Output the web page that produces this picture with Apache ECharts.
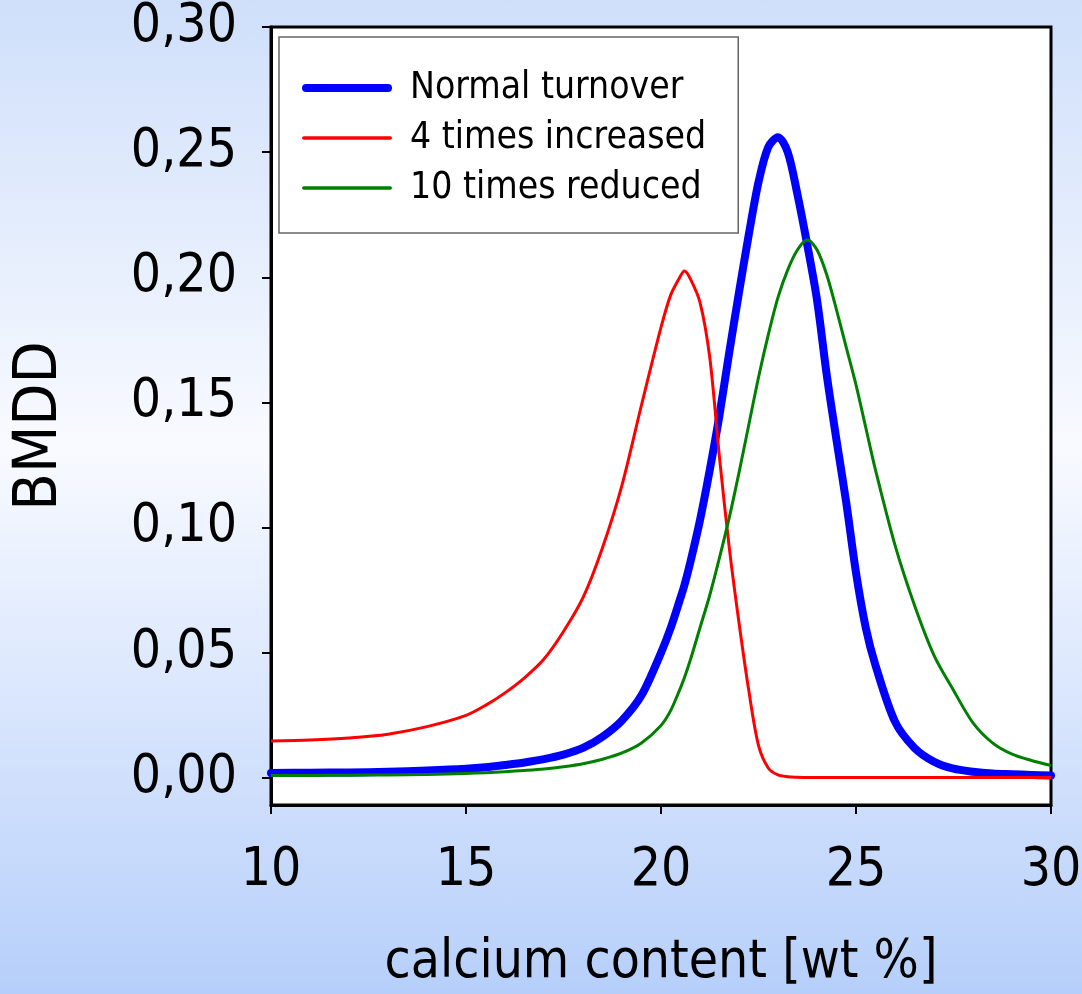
<!DOCTYPE html>
<html>
<head>
<meta charset="utf-8">
<script src="https://cdn.jsdelivr.net/npm/echarts@6/dist/echarts.min.js"></script>
<style>
html,body{margin:0;padding:0;}
body{width:1082px;height:994px;background:linear-gradient(to bottom,#cfdffa 0%,#f8faff 45%,#b6cffa 100%);}
#chart{width:1082px;height:994px;}
</style>
</head>
<body>
<div id="chart"></div>
<script>
const seriesNames = ['Normal turnover', '4 times increased', '10 times reduced'];
const xValues = [10, 11, 12, 13, 14, 15, 15.5, 16, 16.5, 17, 17.5, 18, 18.5, 19, 19.5, 20, 20.25, 20.5, 20.6, 20.75, 21, 21.25, 21.5, 21.75, 22, 22.25, 22.5, 22.75, 23, 23.25, 23.5, 23.75, 24, 24.25, 24.5, 24.75, 25, 25.25, 25.5, 26, 26.5, 27, 27.5, 28, 28.5, 29, 29.5, 30];
const normalTurnover = [0.0020, 0.0021, 0.0022, 0.0025, 0.0030, 0.0037, 0.0043, 0.0052, 0.0062, 0.0075, 0.0093, 0.0120, 0.0165, 0.0230, 0.0330, 0.0500, 0.0600, 0.0720, 0.0770, 0.0860, 0.1030, 0.1230, 0.1450, 0.1700, 0.1940, 0.2170, 0.2380, 0.2520, 0.2560, 0.2500, 0.2330, 0.2130, 0.1910, 0.1610, 0.1350, 0.1100, 0.0820, 0.0600, 0.0450, 0.0225, 0.0120, 0.0065, 0.0037, 0.0025, 0.0018, 0.0015, 0.0012, 0.0010];
const fourTimesIncreased = [0.0148, 0.0152, 0.0160, 0.0175, 0.0205, 0.0250, 0.0290, 0.0340, 0.0400, 0.0475, 0.0585, 0.0720, 0.0920, 0.1170, 0.1490, 0.1800, 0.1930, 0.2005, 0.2025, 0.1995, 0.1900, 0.1680, 0.1280, 0.0920, 0.0620, 0.0350, 0.0130, 0.0040, 0.0012, 0.0005, 0.0003, 0.0002, 0.0002, 0.0002, 0.0002, 0.0002, 0.0002, 0.0002, 0.0002, 0.0002, 0.0002, 0.0002, 0.0002, 0.0002, 0.0002, 0.0002, 0.0002, 0.0002];
const tenTimesReduced = [0.0010, 0.0010, 0.0011, 0.0012, 0.0014, 0.0018, 0.0021, 0.0025, 0.0030, 0.0036, 0.0045, 0.0057, 0.0075, 0.0100, 0.0140, 0.0210, 0.0270, 0.0360, 0.0400, 0.0470, 0.0600, 0.0730, 0.0880, 0.1040, 0.1220, 0.1410, 0.1600, 0.1770, 0.1920, 0.2030, 0.2110, 0.2150, 0.2110, 0.2010, 0.1870, 0.1720, 0.1570, 0.1400, 0.1230, 0.0930, 0.0690, 0.0490, 0.0350, 0.0220, 0.0140, 0.0095, 0.0070, 0.0050];
const yTickValues = [0, 0.05, 0.10, 0.15, 0.20, 0.25, 0.30];
const yTickLabels = ['0,00', '0,05', '0,10', '0,15', '0,20', '0,25', '0,30'];
const xTickLabels = ['10', '15', '20', '25', '30'];
const xAxisTitle = 'calcium content [wt %]';
const yAxisTitle = 'BMDD';

const FONT = "'DejaVu Sans Condensed', 'DejaVu Sans', sans-serif";
const pairs = ys => xValues.map((x, i) => [x, ys[i]]);
const lineIcon = h => 'path://M' + (h / 2) + ',0 L' + (90 - h / 2) + ',0 A' + (h / 2) + ',' + (h / 2) + ' 0 0 1 ' + (90 - h / 2) + ',' + h +
  ' L' + (h / 2) + ',' + h + ' A' + (h / 2) + ',' + (h / 2) + ' 0 0 1 ' + (h / 2) + ',0 Z';

const chart = echarts.init(document.getElementById('chart'), null, {renderer: 'canvas'});
chart.setOption({
  backgroundColor: 'transparent',
  animation: false,
  grid: {
    left: 271, top: 27, width: 780, height: 778,
    show: true, backgroundColor: '#ffffff', borderColor: '#000000', borderWidth: 3,
    containLabel: false, outerBoundsMode: 'none'
  },
  legend: {
    left: 279, top: 37, orient: 'vertical',
    data: [
      {name: seriesNames[0], icon: lineIcon(8)},
      {name: seriesNames[1], icon: lineIcon(3.5)},
      {name: seriesNames[2], icon: lineIcon(3.5)}
    ],
    backgroundColor: '#ffffff', borderColor: '#666666', borderWidth: 1.5, borderRadius: 0,
    padding: [26, 32, 20, 23],
    itemWidth: 90, itemHeight: 14, itemGap: 0,
    selectedMode: false,
    textStyle: {fontFamily: FONT, fontSize: 37, color: '#000', lineHeight: 50, padding: [0, 0, 0, 13]}
  },
  xAxis: {
    type: 'value', min: 10, max: 30, interval: 5,
    name: xAxisTitle, nameLocation: 'middle', nameGap: 132,
    nameTextStyle: {fontFamily: FONT, fontSize: 53, color: '#000'},
    axisLine: {show: true, onZero: false, lineStyle: {color: '#000', width: 3}},
    axisTick: {show: true, inside: false, length: 9, lineStyle: {color: '#000', width: 2}},
    axisLabel: {fontFamily: FONT, fontSize: 53, color: '#000', margin: 40,
      formatter: v => xTickLabels[Math.round((v - 10) / 5)]},
    splitLine: {show: false}
  },
  yAxis: {
    type: 'value', min: -0.0108, max: 0.30,
    name: yAxisTitle, nameLocation: 'middle', nameGap: 200, nameRotate: 90,
    nameTextStyle: {fontFamily: FONT, fontSize: 61, color: '#000', padding: [0, 20, 0, 0]},
    axisLine: {show: true, onZero: false, lineStyle: {color: '#000', width: 3}},
    axisTick: {show: true, inside: false, length: 9, customValues: yTickValues, lineStyle: {color: '#000', width: 2}},
    axisLabel: {fontFamily: FONT, fontSize: 53, color: '#000', margin: 34, customValues: yTickValues,
      formatter: v => { const i = yTickValues.findIndex(t => Math.abs(t - v) < 1e-6); return i >= 0 ? yTickLabels[i] : ''; }},
    splitLine: {show: false}
  },
  series: [
    {name: seriesNames[0], type: 'line', data: pairs(normalTurnover), showSymbol: false, symbol: 'none',
      smooth: 0.3, lineStyle: {color: '#0000ff', width: 8, cap: 'round', join: 'round'}, itemStyle: {color: '#0000ff'}},
    {name: seriesNames[1], type: 'line', data: pairs(fourTimesIncreased), showSymbol: false, symbol: 'none',
      smooth: 0.3, lineStyle: {color: '#ff0000', width: 3, join: 'round'}, itemStyle: {color: '#ff0000'}},
    {name: seriesNames[2], type: 'line', data: pairs(tenTimesReduced), showSymbol: false, symbol: 'none',
      smooth: 0.3, lineStyle: {color: '#008000', width: 3, join: 'round'}, itemStyle: {color: '#008000'}}
  ]
});
</script>
</body>
</html>
